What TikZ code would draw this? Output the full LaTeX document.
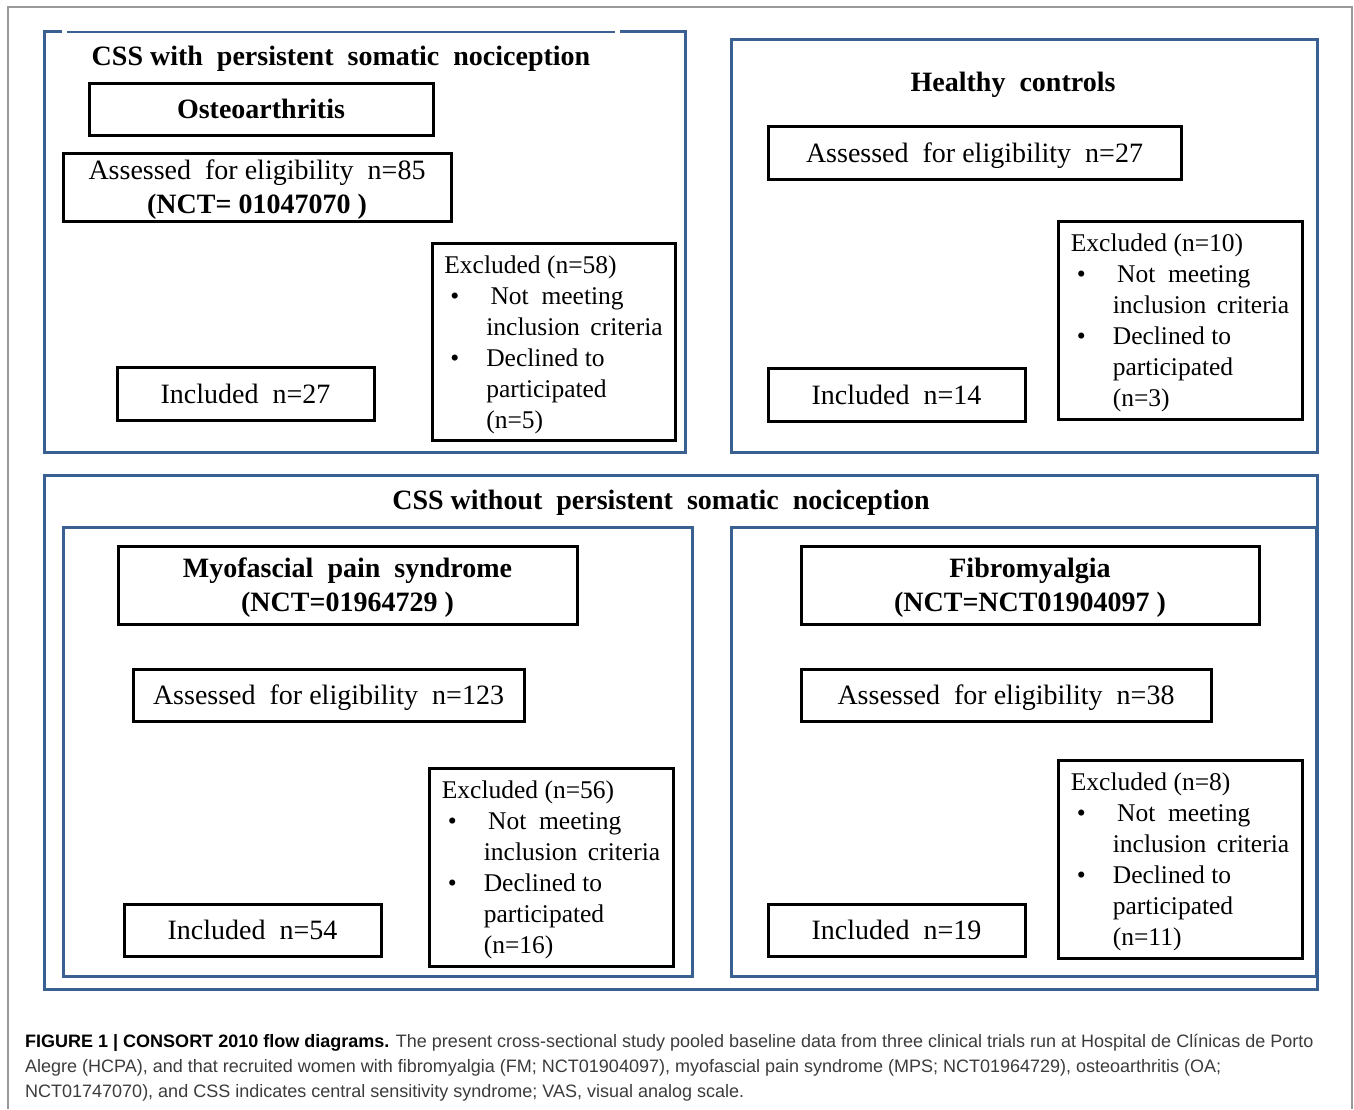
\documentclass[tikz,border=0pt]{standalone}
\usepackage{fontspec}
\setmainfont{Liberation Serif}
\newfontfamily\capfont{Liberation Sans}
\definecolor{framecol}{RGB}{58,95,145}
\definecolor{capgray}{RGB}{60,60,60}
\newcommand{\exclist}[2]{Excluded (n=#1)\\\hspace*{6pt}\makebox[36pt][l]{•}\,Not\ \ meeting\\\hspace*{42pt}inclusion\ \,criteria\\\hspace*{6pt}\makebox[36pt][l]{•}Declined\ to\\\hspace*{42pt}participated\\\hspace*{42pt}(n=#2)}
\begin{document}
\begin{tikzpicture}[x=1pt,y=-1pt,
  blk/.style={draw=black, line width=3pt, inner sep=0pt, align=center, text depth=0pt, font=\fontsize{28}{34}\selectfont},
  hdr/.style={blk, font=\bfseries\fontsize{28}{34}\selectfont},
  excbox/.style={draw=black, line width=3pt, inner sep=0pt, align=left, text depth=0pt, minimum width=243pt, minimum height=197pt, font=\fontsize{25.5}{31}\selectfont},
  frame/.style={draw=framecol, line width=3pt},
  ttl/.style={font=\bfseries\fontsize{28}{32}\selectfont, inner sep=0pt, text depth=0pt},
  capline/.style={anchor=base west, inner sep=0pt, font=\capfont\fontsize{18}{20}\selectfont, text=capgray}
]
\useasboundingbox (0,0) rectangle (1354,1109);
\fill[white] (0,0) rectangle (1354,1109);
% outer gray frame
\draw[gray!80, line width=1.3pt] (8,1109) -- (8,7) -- (1352,7) -- (1352,1109);

% ---------- top left frame ----------
\draw[frame] (62,31) -- (44,31) -- (44,452) -- (685,452) -- (685,31) -- (620,31);
\draw[framecol, line width=2pt] (67,32) -- (615,32);
\node[ttl] (t1) at (341,56) {CSS with\ \ persistent\ \ somatic\ \ nociception};
\node[hdr, minimum width=344pt, minimum height=52pt] (oa) at (261,109) {Osteoarthritis};
\node[blk, minimum width=388pt, minimum height=68pt] (oaa) at (257,187) {Assessed\ \ for eligibility\ \ n=85\\\textbf{(NCT= 01047070 )}};
\node[excbox] (oae) at (553.5,342) {\exclist{58}{5}};
\node[blk, minimum width=257pt, minimum height=53pt] (oai) at (245.5,393.5) {Included\ \ n=27};

% ---------- healthy controls ----------
\draw[frame] (731,39) rectangle (1317,452);
\node[ttl] (t2) at (1013,82) {Healthy\ \ controls};
\node[blk, minimum width=413pt, minimum height=53pt] (hca) at (974.5,152.5) {Assessed\ \ for eligibility\ \ n=27};
\node[excbox, minimum width=244pt, minimum height=198pt] (hce) at (1180,320) {\exclist{10}{3}};
\node[blk, minimum width=257pt, minimum height=53pt] (hci) at (896.5,394.5) {Included\ \ n=14};

% ---------- bottom ----------
\draw[frame] (44,475) rectangle (1317,989);
\node[ttl] (t3) at (661,500) {CSS without\ \ persistent\ \ somatic\ \ nociception};
\draw[frame] (63,527) rectangle (692,976);
\draw[frame] (731,527) rectangle (1316,976);

\node[hdr, minimum width=459pt, minimum height=78pt] (mps) at (347.5,585) {Myofascial\ \ pain\ \ syndrome\\(NCT=01964729 )};
\node[blk, minimum width=391pt, minimum height=52pt] (mpsa) at (328.5,695) {Assessed\ \ for eligibility\ \ n=123};
\node[excbox, minimum width=244pt, minimum height=198pt] (mpse) at (551,867) {\exclist{56}{16}};
\node[blk, minimum width=257pt, minimum height=52pt] (mpsi) at (252.5,930) {Included\ \ n=54};

\node[hdr, minimum width=458pt, minimum height=78pt] (fm) at (1030,585) {Fibromyalgia\\(NCT=NCT01904097 )};
\node[blk, minimum width=410pt, minimum height=52pt] (fma) at (1006,695) {Assessed\ \ for eligibility\ \ n=38};
\node[excbox, minimum width=244pt, minimum height=198pt] (fme) at (1180,859) {\exclist{8}{11}};
\node[blk, minimum width=257pt, minimum height=52pt] (fmi) at (896.5,930) {Included\ \ n=19};

% ---------- caption ----------
\node[capline] (c1) at (25,1047) {\textbf{\color{black}FIGURE 1 | CONSORT 2010 flow diagrams.} The present cross-sectional study pooled baseline data from three clinical trials run at Hospital de Clínicas de Porto};
\node[capline] (c2) at (25,1072) {Alegre (HCPA), and that recruited women with fibromyalgia (FM; NCT01904097), myofascial pain syndrome (MPS; NCT01964729), osteoarthritis (OA;};
\node[capline] (c3) at (25,1097) {NCT01747070), and CSS indicates central sensitivity syndrome; VAS, visual analog scale.};
\end{tikzpicture}
\end{document}
